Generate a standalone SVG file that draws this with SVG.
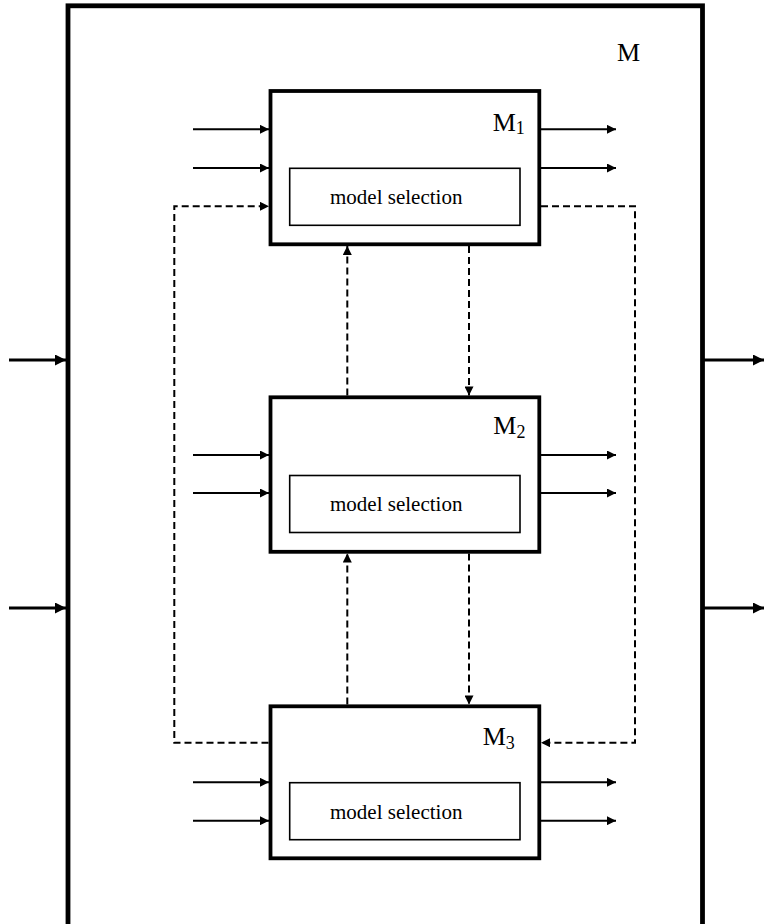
<svg xmlns="http://www.w3.org/2000/svg" width="764" height="924" viewBox="0 0 764 924">
<style>
.outer{fill:#fff;stroke:#000;stroke-width:4.8}
.box{fill:#fff;stroke:#000;stroke-width:3.8}
.inner{fill:#fff;stroke:#000;stroke-width:1.6}
.sol{fill:none;stroke:#000;stroke-width:2}
.big{fill:none;stroke:#000;stroke-width:3}
.dash{fill:none;stroke:#000;stroke-width:2;stroke-dasharray:7,4}
.lbl{font-family:"Liberation Serif","Times New Roman",serif;font-size:26px;fill:#000}
.sub{font-size:18px}
.ms{font-family:"Liberation Serif","Times New Roman",serif;font-size:21px;fill:#000}
</style>
<defs>
<marker id="ah" viewBox="0 0 10 10" refX="10" refY="5" markerUnits="userSpaceOnUse" markerWidth="10" markerHeight="9" orient="auto"><path d="M0,0 L10,5 L0,10 z" fill="#000"/></marker>
<marker id="ahb" viewBox="0 0 10 10" refX="10" refY="5" markerUnits="userSpaceOnUse" markerWidth="11" markerHeight="11" orient="auto"><path d="M0,0 L10,5 L0,10 z" fill="#000"/></marker>
</defs>
<rect width="764" height="924" fill="#fff"/>
<g id="M">
<rect class="outer" x="68" y="5.8" width="634.5" height="930"/>
<text class="lbl" x="617" y="61">M</text>
</g>
<g id="M1">
<rect class="box" x="270.5" y="91" width="268.8" height="153.3"/>
<rect class="inner" x="289.7" y="168.3" width="230.3" height="57"/>
<text class="ms" x="330" y="204">model selection</text>
<text class="lbl" x="492.7" y="130.7">M<tspan class="sub" dy="3.6">1</tspan></text>
</g>
<g id="M2">
<rect class="box" x="270.5" y="397.3" width="268.8" height="154.5"/>
<rect class="inner" x="289.7" y="475.5" width="230.3" height="57"/>
<text class="ms" x="330" y="511">model selection</text>
<text class="lbl" x="493.3" y="434">M<tspan class="sub" dy="3.5">2</tspan></text>
</g>
<g id="M3">
<rect class="box" x="270.5" y="706.3" width="268.8" height="152"/>
<rect class="inner" x="289.7" y="782.7" width="230.3" height="57"/>
<text class="ms" x="330" y="819">model selection</text>
<text class="lbl" x="482.7" y="745">M<tspan class="sub" dy="4.3">3</tspan></text>
</g>
<g id="connectors">
<line class="big" x1="9" y1="360" x2="66" y2="360" marker-end="url(#ahb)"/>
<line class="big" x1="9" y1="608" x2="66" y2="608" marker-end="url(#ahb)"/>
<line class="big" x1="704" y1="360" x2="764" y2="360" marker-end="url(#ahb)"/>
<line class="big" x1="704" y1="608" x2="764" y2="608" marker-end="url(#ahb)"/>
<line class="sol" x1="193" y1="129.3" x2="269" y2="129.3" marker-end="url(#ah)"/>
<line class="sol" x1="193" y1="168" x2="269" y2="168" marker-end="url(#ah)"/>
<line class="sol" x1="541" y1="129.3" x2="616" y2="129.3" marker-end="url(#ah)"/>
<line class="sol" x1="541" y1="168" x2="616" y2="168" marker-end="url(#ah)"/>
<line class="sol" x1="193" y1="455" x2="269" y2="455" marker-end="url(#ah)"/>
<line class="sol" x1="193" y1="493" x2="269" y2="493" marker-end="url(#ah)"/>
<line class="sol" x1="541" y1="455" x2="616" y2="455" marker-end="url(#ah)"/>
<line class="sol" x1="541" y1="493" x2="616" y2="493" marker-end="url(#ah)"/>
<line class="sol" x1="193" y1="782.3" x2="269" y2="782.3" marker-end="url(#ah)"/>
<line class="sol" x1="193" y1="820.7" x2="269" y2="820.7" marker-end="url(#ah)"/>
<line class="sol" x1="541" y1="782.3" x2="616" y2="782.3" marker-end="url(#ah)"/>
<line class="sol" x1="541" y1="820.7" x2="616" y2="820.7" marker-end="url(#ah)"/>
<path class="dash" d="M268.5,742.7 H174.3 V206.3 H269" marker-end="url(#ah)"/>
<path class="dash" d="M541,206.3 H635 V742.7 H541" marker-end="url(#ah)"/>
<line class="dash" x1="347.3" y1="395.5" x2="347.3" y2="246" marker-end="url(#ah)"/>
<line class="dash" x1="469" y1="246" x2="469" y2="395.5" marker-end="url(#ah)"/>
<line class="dash" x1="347.3" y1="704.5" x2="347.3" y2="553.5" marker-end="url(#ah)"/>
<line class="dash" x1="469" y1="553.5" x2="469" y2="704.5" marker-end="url(#ah)"/>
</g>
</svg>
